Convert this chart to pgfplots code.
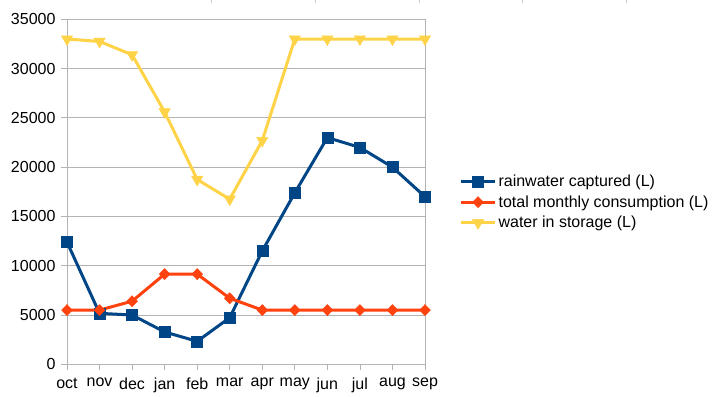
\documentclass[border=0pt]{standalone}
\usepackage{fontspec}
\setmainfont{Liberation Sans}
\usepackage{pgfplots}
\pgfplotsset{compat=1.18}
\definecolor{cblue}{HTML}{004586}
\definecolor{cred}{HTML}{FF420E}
\definecolor{cyellow}{HTML}{FFD347}
\definecolor{cgrid}{HTML}{B3B3B3}
\begin{document}
\begin{tikzpicture}[font=\fontsize{16bp}{19bp}\selectfont]
\path[use as bounding box] (-67bp,-32.7bp) rectangle (656bp,364.3bp);
\begin{axis}[
  scale only axis, width=358bp, height=345bp,
  xmin=0, xmax=11, ymin=0, ymax=35000,
  xtick={0,...,11},
  xticklabels={oct,nov,dec,jan,feb,mar,apr,may,jun,jul,aug,sep},
  ytick={0,5000,...,35000},
  scaled y ticks=false,
  /pgf/number format/1000 sep={},
  /pgf/number format/assume math mode=true,
  ymajorgrids,
  major grid style={cgrid, line width=0.8bp},
  axis line style={cgrid, line width=0.8bp},
  tick style={cgrid, line width=0.8bp},
  tick align=outside, major tick length=6bp,
  xtick pos=lower, ytick pos=left,
  yticklabel style={xshift=-2bp},
  xticklabel style={yshift=-4bp},
  clip=false,
  legend style={draw=none, fill=none, at={(1.096,0.47)}, anchor=west, inner sep=0pt,
    row sep=3.5bp, font=\fontsize{16bp}{19bp}\selectfont,
    nodes={inner sep=2bp}},
  legend cell align=left,
  legend image code/.code={\draw[mark repeat=2,mark phase=2,#1] plot coordinates {(0bp,0bp) (17bp,0bp) (34bp,0bp)};},
]
\addplot[cblue, line width=3bp, mark=square*, mark size=5.5bp, mark options={solid, line width=0.5bp}] coordinates {
(0,12400) (1,5170) (2,5000) (3,3280) (4,2330) (5,4730) (6,11500) (7,17400) (8,23000) (9,22000) (10,20000) (11,17000)};
\addlegendentry{rainwater captured (L)}
\addplot[cred, line width=3bp, mark=diamond*, mark size=5.5bp, mark options={solid, xscale=1.3, line width=0.5bp}] coordinates {
(0,5500) (1,5500) (2,6400) (3,9150) (4,9150) (5,6700) (6,5500) (7,5500) (8,5500) (9,5500) (10,5500) (11,5500)};
\addlegendentry{total monthly consumption (L)}
\addplot[cyellow, line width=3bp, mark=triangle*, mark size=6.5bp, mark options={solid, rotate=180, line width=0.5bp}] coordinates {
(0,33000) (1,32750) (2,31400) (3,25600) (4,18750) (5,16750) (6,22700) (7,33000) (8,33000) (9,33000) (10,33000) (11,33000)};
\addlegendentry{water in storage (L)}
\end{axis}
\foreach \x in {144.8,248,352,455,559}
  \draw[cgrid!70, line width=0.8bp] (\x bp,364.3bp) -- (\x bp,361bp);
\end{tikzpicture}
\end{document}
